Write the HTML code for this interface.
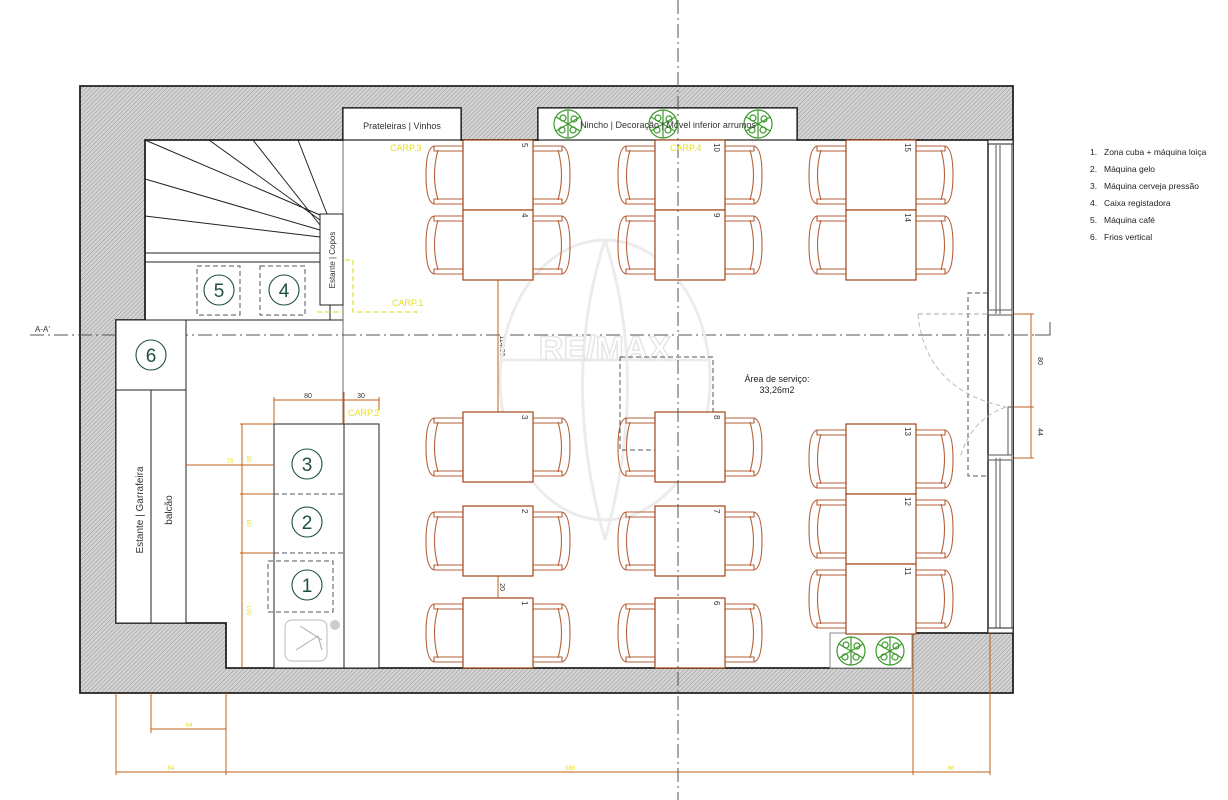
<!DOCTYPE html>
<html><head><meta charset="utf-8"><style>
html,body{margin:0;padding:0;background:#fff}
svg{display:block}
text{font-family:"Liberation Sans",sans-serif}
</style></head><body>
<svg width="1228" height="800" viewBox="0 0 1228 800" xmlns="http://www.w3.org/2000/svg">
<defs>
<pattern id="h" width="3" height="3" patternUnits="userSpaceOnUse" patternTransform="rotate(45)">
<rect width="3" height="3" fill="#d4d4d4"/><line x1="0" y1="0" x2="0" y2="3" stroke="#959595" stroke-width="1"/>
</pattern>
<g id="chL" fill="none" stroke="#b5603a" stroke-width="1.1">
<path d="M38,1 L8,1 Q0,3 0,30 Q0,57 8,59 L38,59"/>
<path d="M12,5 Q5,30 12,55"/>
<path d="M8,1 L8,6 L38,6 M8,59 L8,54 L38,54"/>
</g>
<g id="tree" fill="none" stroke="#3a9a2a" stroke-width="1.2">
<circle r="14"/><path d="M0,-14 L0,0 L12,-7 M0,0 L12,7 M0,0 L0,14 M0,0 L-12,7 M0,0 L-12,-7"/>
<circle cx="-5" cy="-6" r="3"/><circle cx="5" cy="6" r="3"/><circle cx="-6" cy="6" r="3"/><circle cx="6" cy="-5" r="3"/>
</g>
</defs>

<!-- walls -->
<path fill="url(#h)" stroke="#222" stroke-width="1.8" fill-rule="evenodd"
d="M80,86 H1013 V693 H80 Z
M145,140 H343 V108 H461 V140 H538 V108 H797 V140 H988 V140 H1013 V633 H913 L910,668 H226 V623 H116 V320 H145 Z"/>
<rect x="988" y="140" width="25" height="493" fill="#fff"/>
<g stroke="#555" stroke-width="1" fill="none">
<line x1="988" y1="140" x2="988" y2="633" stroke="#222" stroke-width="1.5"/>
<line x1="1012" y1="140" x2="1012" y2="633" stroke="#222"/>
<line x1="996" y1="145" x2="996" y2="314"/><line x1="1000" y1="145" x2="1000" y2="314"/>
<line x1="996" y1="458" x2="996" y2="628"/><line x1="1000" y1="458" x2="1000" y2="628"/>
<rect x="988" y="310" width="24" height="5"/><rect x="988" y="455" width="24" height="5"/>
<polyline points="1014,407 1008,407 1008,455"/>
</g>
<rect x="988" y="140" width="25" height="4" fill="#fff" stroke="#222"/>
<rect x="988" y="628" width="25" height="5" fill="#fff" stroke="#222"/>

<line x1="30" y1="335" x2="1050" y2="335" stroke="#555" stroke-width="1" stroke-dasharray="14,4,2,4"/>
<polyline points="1035,335 1050,335 1050,322" fill="none" stroke="#555"/>
<text x="35" y="332" font-size="8" fill="#333">A-A'</text>

<rect x="343" y="108" width="118" height="32" fill="#fff" stroke="#222" stroke-width="1.2"/>
<text x="402" y="129" font-size="9" fill="#333" text-anchor="middle">Prateleiras | Vinhos</text>
<rect x="538" y="108" width="259" height="32" fill="#fff" stroke="#222" stroke-width="1.2"/>
<use href="#tree" x="568" y="124"/><use href="#tree" x="663" y="124"/><use href="#tree" x="758" y="124"/>
<text x="668" y="128" font-size="9" fill="#333" text-anchor="middle">Nincho | Decoração | Móvel inferior arrumos</text>

<g stroke="#222" stroke-width="1" fill="none">
<line x1="145" y1="140" x2="320" y2="215"/>
<line x1="209" y1="140" x2="320" y2="220"/>
<line x1="253" y1="140" x2="320" y2="225"/>
<line x1="298" y1="140" x2="327" y2="214"/>
<line x1="145" y1="179" x2="320" y2="230"/>
<line x1="145" y1="216" x2="320" y2="237"/>
<line x1="145" y1="253" x2="320" y2="253"/>
<line x1="145" y1="262" x2="320" y2="262"/>
<line x1="145" y1="320" x2="343" y2="320"/>
<line x1="343" y1="140" x2="343" y2="668" stroke-width="0.8" stroke="#444"/>
<rect x="320" y="214" width="23" height="91" fill="#fff"/>
<line x1="330" y1="305" x2="330" y2="320"/>
</g>
<text transform="translate(335,260) rotate(-90)" font-size="8" fill="#333" text-anchor="middle">Estante | Copos</text>
<g stroke="#555" stroke-dasharray="5,3" fill="none"><rect x="197" y="266" width="43" height="49"/><rect x="260" y="266" width="45" height="49"/></g>
<g fill="none" stroke="#1f4f3f" stroke-width="1.1"><circle cx="219" cy="290" r="15"/><circle cx="284" cy="290" r="15"/></g>
<text x="219" y="297" font-size="19" fill="#1f4f3f" text-anchor="middle">5</text>
<text x="284" y="297" font-size="19" fill="#1f4f3f" text-anchor="middle">4</text>
<polyline points="345,260 353,260 353,312 422,312" fill="none" stroke="#e8e020" stroke-dasharray="5,3" stroke-width="1.2"/>
<line x1="317" y1="312" x2="343" y2="312" stroke="#e8e020" stroke-dasharray="5,3" stroke-width="1.2"/>

<g stroke="#222" stroke-width="1" fill="#fff">
<rect x="116" y="320" width="70" height="70"/>
<rect x="116" y="390" width="35" height="233"/>
<rect x="151" y="390" width="35" height="233"/>
</g>
<circle cx="151" cy="355" r="15" fill="none" stroke="#1f4f3f" stroke-width="1.1"/>
<text x="151" y="362" font-size="19" fill="#1f4f3f" text-anchor="middle">6</text>
<text transform="translate(143,510) rotate(-90)" font-size="10" fill="#333" text-anchor="middle">Estante | Garrafeira</text>
<text transform="translate(172,510) rotate(-90)" font-size="10" fill="#333" text-anchor="middle">balcão</text>

<g stroke="#222" stroke-width="1" fill="#fff">
<rect x="274" y="424" width="70" height="244"/>
<rect x="344" y="424" width="35" height="244"/>
</g>
<g stroke="#555" stroke-dasharray="5,3" fill="none">
<line x1="274" y1="494" x2="344" y2="494"/><line x1="274" y1="553" x2="344" y2="553"/>
<rect x="268" y="561" width="65" height="51"/>
</g>
<g fill="none" stroke="#1f4f3f" stroke-width="1.1"><circle cx="307" cy="464" r="15"/><circle cx="307" cy="522" r="15"/><circle cx="307" cy="585" r="15"/></g>
<text x="307" y="471" font-size="19" fill="#1f4f3f" text-anchor="middle">3</text>
<text x="307" y="529" font-size="19" fill="#1f4f3f" text-anchor="middle">2</text>
<text x="307" y="592" font-size="19" fill="#1f4f3f" text-anchor="middle">1</text>
<rect x="285" y="620" width="42" height="41" rx="7" fill="none" stroke="#bbb"/>
<path d="M300,626 L322,640 M296,650 L318,636 M318,636 L322,650" stroke="#aaa" fill="none"/>
<circle cx="335" cy="625" r="5" fill="#ccc"/>

<g stroke="#c0601a" stroke-width="1" fill="none">
<line x1="274" y1="400" x2="379" y2="400"/><line x1="274" y1="397" x2="274" y2="424"/><line x1="344" y1="392" x2="344" y2="424"/><line x1="379" y1="397" x2="379" y2="410"/>
<line x1="242" y1="424" x2="242" y2="668"/><line x1="240" y1="424" x2="274" y2="424"/><line x1="240" y1="494" x2="274" y2="494"/><line x1="240" y1="553" x2="274" y2="553"/>
<line x1="186" y1="465" x2="274" y2="465"/>
<line x1="116" y1="693" x2="116" y2="775"/><line x1="151" y1="693" x2="151" y2="733"/><line x1="226" y1="693" x2="226" y2="775"/>
<line x1="151" y1="729" x2="226" y2="729"/>
<line x1="116" y1="772" x2="990" y2="772"/>
<line x1="913" y1="633" x2="913" y2="775"/><line x1="990" y1="633" x2="990" y2="775"/>
<line x1="1031" y1="314" x2="1031" y2="458"/><line x1="1014" y1="314" x2="1034" y2="314"/><line x1="1014" y1="407" x2="1034" y2="407"/><line x1="1014" y1="458" x2="1034" y2="458"/>
<line x1="498" y1="280" x2="498" y2="412"/><line x1="498" y1="576" x2="498" y2="598"/>
</g>
<g font-size="7" fill="#333">
<text x="308" y="398" text-anchor="middle">80</text><text x="361" y="398" text-anchor="middle">30</text>
<text transform="translate(1038,361) rotate(90)" text-anchor="middle">80</text>
<text transform="translate(1038,432) rotate(90)" text-anchor="middle">44</text>
<text transform="translate(500,346) rotate(90)" text-anchor="middle">114.08</text>
<text transform="translate(500,587) rotate(90)" text-anchor="middle">20</text>
</g>
<g font-size="6" fill="#e8e020">
<text x="230" y="463" text-anchor="middle">75</text>
<text transform="translate(247,459) rotate(90)" text-anchor="middle">80</text>
<text transform="translate(247,523) rotate(90)" text-anchor="middle">60</text>
<text transform="translate(247,610) rotate(90)" text-anchor="middle">100</text>
<text x="189" y="727" text-anchor="middle">64</text>
<text x="171" y="770" text-anchor="middle">94</text>
<text x="570" y="770" text-anchor="middle">586</text>
<text x="951" y="770" text-anchor="middle">66</text>
</g>
<g font-size="9" fill="#e8e020">
<text x="392" y="306">CARP.1</text><text x="348" y="416">CARP.2</text>
</g>

<!-- watermark -->
<g fill="none" stroke="#ececec" stroke-width="3">
<ellipse cx="605" cy="380" rx="105" ry="140"/>
<path d="M605,240 Q560,380 605,540 M605,240 Q650,380 605,540 M500,360 H710"/>
</g>
<text x="605" y="360" font-size="34" font-weight="bold" fill="none" stroke="#e6e6e6" stroke-width="1.5" text-anchor="middle">RE/MAX</text>

<g fill="none">
<polyline points="988,293 968,293 968,476 988,476" stroke="#555" stroke-dasharray="5,3"/>
<polyline points="918,314 988,314" stroke="#aaa" stroke-dasharray="5,3"/>
<path d="M918,314 Q925,390 1006,407 M1006,407 Q970,420 960,458" stroke="#bbb" stroke-dasharray="5,3"/>
</g>
<text x="777" y="382" font-size="9" fill="#222" text-anchor="middle">Área de serviço:</text>
<text x="777" y="393" font-size="9" fill="#222" text-anchor="middle">33,26m2</text>

<rect x="620" y="357" width="93" height="93" fill="none" stroke="#555" stroke-dasharray="5,3"/>

<rect x="830" y="633" width="82" height="35" fill="#fff" stroke="#888"/>
<use href="#tree" x="851" y="651"/><use href="#tree" x="890" y="651"/>

<g>
<g transform="translate(463,140)"><use href="#chL" x="-37" y="5"/><use href="#chL" transform="translate(107,5) scale(-1,1)"/><rect width="70" height="70" fill="#fff" stroke="#a0451a" stroke-width="1.2"/><text transform="translate(59,3) rotate(90)" font-size="8" fill="#333">5</text></g>
<g transform="translate(463,210)"><use href="#chL" x="-37" y="5"/><use href="#chL" transform="translate(107,5) scale(-1,1)"/><rect width="70" height="70" fill="#fff" stroke="#a0451a" stroke-width="1.2"/><text transform="translate(59,3) rotate(90)" font-size="8" fill="#333">4</text></g>
<g transform="translate(463,412)"><use href="#chL" x="-37" y="5"/><use href="#chL" transform="translate(107,5) scale(-1,1)"/><rect width="70" height="70" fill="#fff" stroke="#a0451a" stroke-width="1.2"/><text transform="translate(59,3) rotate(90)" font-size="8" fill="#333">3</text></g>
<g transform="translate(463,506)"><use href="#chL" x="-37" y="5"/><use href="#chL" transform="translate(107,5) scale(-1,1)"/><rect width="70" height="70" fill="#fff" stroke="#a0451a" stroke-width="1.2"/><text transform="translate(59,3) rotate(90)" font-size="8" fill="#333">2</text></g>
<g transform="translate(463,598)"><use href="#chL" x="-37" y="5"/><use href="#chL" transform="translate(107,5) scale(-1,1)"/><rect width="70" height="70" fill="#fff" stroke="#a0451a" stroke-width="1.2"/><text transform="translate(59,3) rotate(90)" font-size="8" fill="#333">1</text></g>
<g transform="translate(655,140)"><use href="#chL" x="-37" y="5"/><use href="#chL" transform="translate(107,5) scale(-1,1)"/><rect width="70" height="70" fill="#fff" stroke="#a0451a" stroke-width="1.2"/><text transform="translate(59,3) rotate(90)" font-size="8" fill="#333">10</text></g>
<g transform="translate(655,210)"><use href="#chL" x="-37" y="5"/><use href="#chL" transform="translate(107,5) scale(-1,1)"/><rect width="70" height="70" fill="#fff" stroke="#a0451a" stroke-width="1.2"/><text transform="translate(59,3) rotate(90)" font-size="8" fill="#333">9</text></g>
<g transform="translate(655,412)"><use href="#chL" x="-37" y="5"/><use href="#chL" transform="translate(107,5) scale(-1,1)"/><rect width="70" height="70" fill="#fff" stroke="#a0451a" stroke-width="1.2"/><text transform="translate(59,3) rotate(90)" font-size="8" fill="#333">8</text></g>
<g transform="translate(655,506)"><use href="#chL" x="-37" y="5"/><use href="#chL" transform="translate(107,5) scale(-1,1)"/><rect width="70" height="70" fill="#fff" stroke="#a0451a" stroke-width="1.2"/><text transform="translate(59,3) rotate(90)" font-size="8" fill="#333">7</text></g>
<g transform="translate(655,598)"><use href="#chL" x="-37" y="5"/><use href="#chL" transform="translate(107,5) scale(-1,1)"/><rect width="70" height="70" fill="#fff" stroke="#a0451a" stroke-width="1.2"/><text transform="translate(59,3) rotate(90)" font-size="8" fill="#333">6</text></g>
<g transform="translate(846,140)"><use href="#chL" x="-37" y="5"/><use href="#chL" transform="translate(107,5) scale(-1,1)"/><rect width="70" height="70" fill="#fff" stroke="#a0451a" stroke-width="1.2"/><text transform="translate(59,3) rotate(90)" font-size="8" fill="#333">15</text></g>
<g transform="translate(846,210)"><use href="#chL" x="-37" y="5"/><use href="#chL" transform="translate(107,5) scale(-1,1)"/><rect width="70" height="70" fill="#fff" stroke="#a0451a" stroke-width="1.2"/><text transform="translate(59,3) rotate(90)" font-size="8" fill="#333">14</text></g>
<g transform="translate(846,424)"><use href="#chL" x="-37" y="5"/><use href="#chL" transform="translate(107,5) scale(-1,1)"/><rect width="70" height="70" fill="#fff" stroke="#a0451a" stroke-width="1.2"/><text transform="translate(59,3) rotate(90)" font-size="8" fill="#333">13</text></g>
<g transform="translate(846,494)"><use href="#chL" x="-37" y="5"/><use href="#chL" transform="translate(107,5) scale(-1,1)"/><rect width="70" height="70" fill="#fff" stroke="#a0451a" stroke-width="1.2"/><text transform="translate(59,3) rotate(90)" font-size="8" fill="#333">12</text></g>
<g transform="translate(846,564)"><use href="#chL" x="-37" y="5"/><use href="#chL" transform="translate(107,5) scale(-1,1)"/><rect width="70" height="70" fill="#fff" stroke="#a0451a" stroke-width="1.2"/><text transform="translate(59,3) rotate(90)" font-size="8" fill="#333">11</text></g>
</g>

<!-- vertical centre line on top -->
<line x1="678" y1="0" x2="678" y2="800" stroke="#555" stroke-width="1" stroke-dasharray="14,4,2,4"/>
<text x="670" y="151" font-size="9" fill="#e8e020">CARP.4</text>
<text x="390" y="151" font-size="9" fill="#e8e020">CARP.3</text>

<g font-size="8.5" fill="#222">
<text x="1090" y="155">1.</text><text x="1104" y="155">Zona cuba + máquina loiça</text>
<text x="1090" y="172">2.</text><text x="1104" y="172">Máquina gelo</text>
<text x="1090" y="189">3.</text><text x="1104" y="189">Máquina cerveja pressão</text>
<text x="1090" y="206">4.</text><text x="1104" y="206">Caixa registadora</text>
<text x="1090" y="223">5.</text><text x="1104" y="223">Máquina café</text>
<text x="1090" y="240">6.</text><text x="1104" y="240">Frios vertical</text>
</g>
</svg>
</body></html>
